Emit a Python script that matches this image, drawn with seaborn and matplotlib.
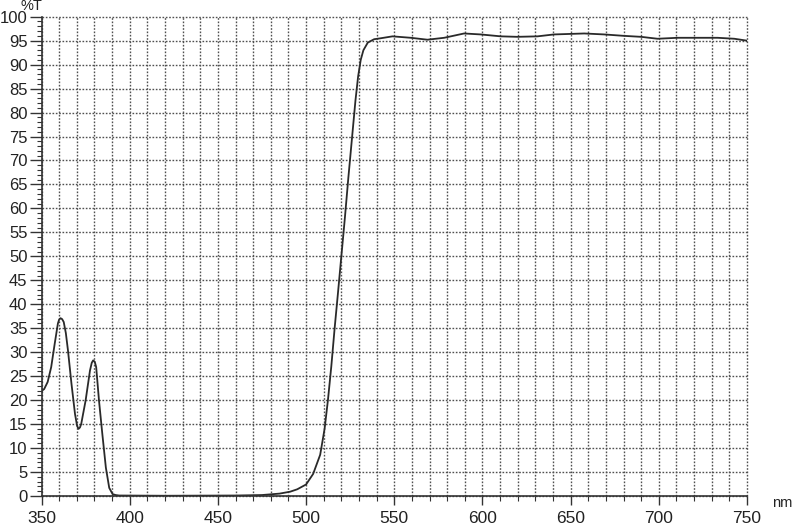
import matplotlib
matplotlib.use("Agg")
import matplotlib.pyplot as plt
from matplotlib.ticker import MultipleLocator
import seaborn as sns
import pandas as pd

# Data (wavelength nm, transmittance %T)
wavelength = [350, 351.5, 353.5, 355.5, 357.5, 359.3, 360.0, 360.8, 361.7, 362.6,
              363.8, 365, 367, 369, 370.2, 371, 371.8, 372.5, 375, 377.5,
              378.5, 379.3, 380.2, 381, 382.6, 384.5, 386.5, 388.4, 390.3, 392,
              394, 420, 460, 475, 485, 491, 495, 500, 504, 508,
              510.5, 512.4, 514.3, 516.2, 518, 520, 522, 524, 526, 528,
              529.5, 531, 532.5, 535, 538.6, 542.3, 549, 559.4, 568.8, 578.3,
              589.6, 599, 610.4, 619.8, 631.2, 640.6, 657.7, 669, 680.4, 689.9,
              699.3, 710.7, 722, 733.4, 742.8, 750]
transmittance = [21.9, 22.3, 23.8, 26.9, 31.8, 36.0, 36.8, 37.1, 36.9, 36.3,
                 34.0, 30.4, 23.4, 17.1, 14.6, 14.0, 14.3, 15.0, 19.9, 26.2,
                 27.8, 28.3, 28.0, 26.9, 19.9, 12.9, 5.9, 1.7, 0.4, 0.2,
                 0.1, 0.05, 0.1, 0.2, 0.5, 0.9, 1.4, 2.4, 4.6, 8.6,
                 14.0, 20.0, 27.0, 35.0, 42.0, 50.0, 58.0, 66.5, 74.5, 82.5,
                 87.5, 91.0, 93.0, 94.6, 95.3, 95.5, 95.9, 95.6, 95.2, 95.6,
                 96.5, 96.3, 95.9, 95.8, 95.9, 96.3, 96.5, 96.3, 96.0, 95.8,
                 95.4, 95.6, 95.6, 95.6, 95.4, 95.0]

x_ticks = [350, 400, 450, 500, 550, 600, 650, 700, 750]
y_ticks = list(range(0, 101, 5))

df = pd.DataFrame({"nm": wavelength, "T": transmittance})

sns.set_theme(style="white")
plt.rcParams["font.family"] = ["Liberation Sans Narrow", "Liberation Sans", "DejaVu Sans"]

fig = plt.figure(figsize=(7.95, 5.27), dpi=100)
ax = fig.add_axes([41.5 / 795, 1 - 496 / 527, (747 - 41.5) / 795, (496 - 16.7) / 527])

sns.lineplot(data=df, x="nm", y="T", ax=ax, color="#2a2a2a", linewidth=1.3,
             sort=False, estimator=None)

ax.set_xlim(350, 750)
ax.set_ylim(0, 100)
ax.set_xticks(x_ticks)
ax.set_xticklabels([str(v) for v in x_ticks])
ax.set_yticks(y_ticks)
ax.set_yticklabels([str(v) for v in y_ticks])
ax.xaxis.set_minor_locator(MultipleLocator(10))
ax.yaxis.set_minor_locator(MultipleLocator(1))

ax.set_xlabel("")
ax.set_ylabel("")

for side in ["top", "right"]:
    ax.spines[side].set_visible(False)
for side in ["left", "bottom"]:
    ax.spines[side].set_color("#333333")
    ax.spines[side].set_linewidth(1.2)

ax.grid(which="major", axis="both", linestyle=(0, (1.2, 1.2)), color="#505050", linewidth=1.0)
ax.grid(which="minor", axis="x", linestyle=(0, (1.2, 1.2)), color="#505050", linewidth=1.0)
for gl in ax.get_xgridlines() + ax.get_ygridlines():
    gl.set_clip_on(False)

ax.tick_params(axis="both", which="both", direction="out", color="#333333",
               labelcolor="#222222")
ax.tick_params(axis="y", which="major", length=9, width=1.0, pad=1, left=True, labelsize=12)
ax.tick_params(axis="y", which="minor", length=3.5, width=0.8, left=True)
ax.tick_params(axis="x", which="major", length=6.5, width=1.0, pad=4.5, bottom=True, labelsize=12.5)
ax.tick_params(axis="x", which="minor", length=3.5, width=0.8, bottom=True)

fig.text(31 / 795, 1 - 6 / 527, "%T", ha="center", va="center", fontsize=10.5, color="#222222")
fig.text(782 / 795, 1 - 503 / 527, "nm", ha="center", va="center", fontsize=10.5, color="#222222")

fig.savefig("out.png", dpi=100)
